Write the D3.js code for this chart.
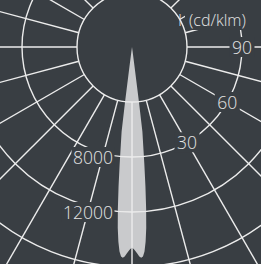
<!DOCTYPE html>
<html>
<head>
<meta charset="utf-8">
<script src="https://cdn.jsdelivr.net/npm/d3@7"></script>
<style>
  html, body { margin: 0; padding: 0; background: #ffffff; }
  svg { display: block; }
</style>
</head>
<body>
<div id="chart"></div>
<script>
// ---- data ----
const beamAngles = [0, 0.5, 1, 1.5, 2, 2.5, 3, 3.5, 4, 4.5, 5, 5.5, 6, 6.5, 7, 7.2, 7.4, 7.6, 8, 90];
const beamValues = [14600, 14700, 14850, 15050, 15250, 15350, 15250, 14900, 14200, 13200, 11800, 10200, 8600, 7200, 6200, 4000, 1500, 300, 0, 0];
const circleValues = [4000, 8000, 12000, 16000, 20000];
const intensityLabels = [8000, 12000];
const angleLabels = [30, 60, 90];
const radialAngles = d3.range(0, 360, 15);
const unitLabel = "(cd/klm)";
const quantityLabel = "I";

// ---- layout ----
const W = 261, H = 264;
const cx = 132, cy = 47;
const bg = "#393e43", lineCol = "#ececec", beamCol = "#c9cacc", textCol = "#e4e4e4";
const font = "'Open Sans', 'DejaVu Sans', sans-serif";

const r = d3.scaleLinear().domain([0, 4000]).range([0, 55]);
const toRad = d => d * Math.PI / 180;

const svg = d3.select("#chart").append("svg").attr("width", W).attr("height", H);
svg.append("rect").attr("width", W).attr("height", H).attr("fill", bg);
const g = svg.append("g").attr("transform", `translate(${cx},${cy})`);

// beam: mirrored polar curve, angle from nadir
const pts = [];
for (let i = beamAngles.length - 1; i >= 0; i--) pts.push([-beamAngles[i], beamValues[i]]);
for (let i = 1; i < beamAngles.length; i++) pts.push([beamAngles[i], beamValues[i]]);
const beamLine = d3.lineRadial()
  .angle(d => Math.PI - toRad(d[0]))
  .radius(d => r(d[1]))
  .curve(d3.curveLinearClosed);
g.append("path").attr("d", beamLine(pts)).attr("fill", beamCol).attr("stroke", "none");

// radial lines
const rMin = r(circleValues[0]), rMax = r(30000);
g.selectAll("line.radial").data(radialAngles).join("line")
  .attr("class", "radial")
  .attr("x1", d => rMin * Math.sin(toRad(d)))
  .attr("y1", d => rMin * Math.cos(toRad(d)))
  .attr("x2", d => rMax * Math.sin(toRad(d)))
  .attr("y2", d => rMax * Math.cos(toRad(d)))
  .attr("stroke", lineCol).attr("stroke-width", 1.4);

// circles
g.selectAll("circle.grid").data(circleValues).join("circle")
  .attr("class", "grid")
  .attr("r", d => r(d))
  .attr("fill", "none").attr("stroke", lineCol).attr("stroke-width", 1.4);

// label helper with background box
function boxedText(parent, x, y, txt, anchor, size, pad) {
  const grp = parent.append("g");
  const rect = grp.append("rect").attr("fill", bg);
  const t = grp.append("text").attr("x", x).attr("y", y)
    .attr("text-anchor", anchor).attr("dominant-baseline", "central")
    .attr("font-family", font).attr("font-size", size).attr("font-weight", 300)
    .attr("fill", textCol).text(txt);
  const b = t.node().getBBox();
  rect.attr("x", b.x - pad).attr("y", b.y + 2).attr("width", b.width + 2 * pad).attr("height", b.height - 4);
  return grp;
}

// intensity labels along nadir axis (left)
intensityLabels.forEach(v => boxedText(g, -19, r(v), String(v), "end", 17.5, 1.5));

// angle labels along the 8000 circle (right)
angleLabels.forEach(a => {
  const rr = r(8000);
  boxedText(g, rr * Math.sin(toRad(a)), rr * Math.cos(toRad(a)), String(a), "middle", 17.5, 2.5);
});

// unit title
const titleG = svg.append("g");
const titleRect = titleG.append("rect").attr("fill", bg);
const titleT = titleG.append("text").attr("x", 189).attr("y", 20)
  .attr("dominant-baseline", "central")
  .attr("font-family", font).attr("font-size", 16).attr("font-weight", 300)
  .attr("fill", textCol).text(unitLabel);
const tb = titleT.node().getBBox();
titleRect.attr("x", tb.x - 4).attr("y", 0).attr("width", W - tb.x + 4).attr("height", 30);
svg.append("text").attr("x", 180).attr("y", 20)
  .attr("text-anchor", "middle").attr("dominant-baseline", "central")
  .attr("font-family", font).attr("font-size", 16).attr("font-weight", 300)
  .attr("fill", textCol).text(quantityLabel);
</script>
</body>
</html>
